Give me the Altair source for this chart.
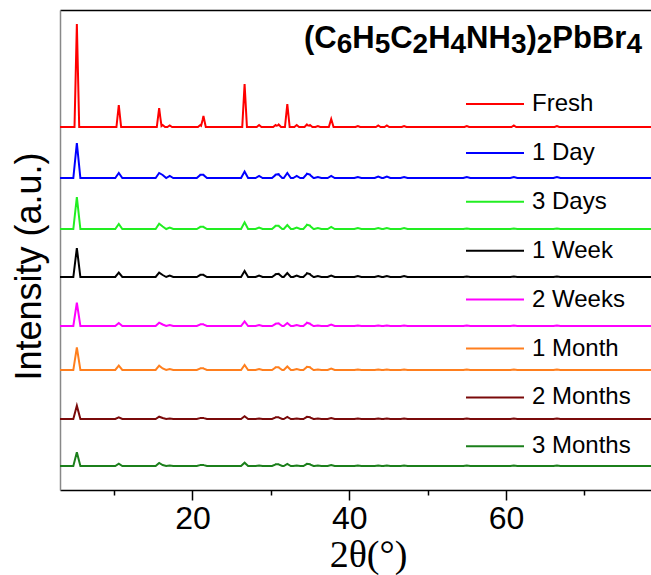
import altair as alt
import pandas as pd

# ---- data ----
series = ["Fresh", "1 Day", "3 Days", "1 Week", "2 Weeks", "1 Month", "2 Months", "3 Months"]
colors = ["#FF0000", "#0000FF", "#22EE22", "#000000", "#FF00FF", "#FF7F1E", "#7A0A0A", "#1B7F1B"]
offsets = [363, 312, 261, 213, 164, 120, 71, 24]

peak_pos = [5.25, 10.6, 15.75, 16.2, 17.1, 21.0, 21.4, 26.65, 28.5, 30.6, 31.0, 32.1,
            33.3, 34.6, 35.0, 36.0, 37.7, 41.1, 43.7, 44.8, 47.0, 55.0, 61.0, 66.5]

h_fresh   = [103, 22, 19, 2, 1.5, 2, 11, 43, 2, 2, 2.5, 23, 2, 2.5, 2, 1, 8, 1, 1.5, 1.5, 1, 1, 1.5, 1]
h_1day    = [35, 5, 5, 3, 2, 3, 3, 6.5, 2, 3, 3.5, 5, 2, 4, 3, 1, 2, 1, 1.5, 1.5, 1, 1, 1, 1]
h_3days   = [32, 5, 5.3, 2.5, 1.5, 2, 2, 6.7, 1.5, 3, 3, 4, 1.5, 4, 3, 1, 2, 1, 1, 1, 1, 0.5, 0.5, 0.5]
h_1week   = [29, 4.3, 4.3, 2, 1.5, 2, 2, 6, 1.5, 2.5, 3, 4, 1.5, 3.5, 2.5, 1, 1.5, 1, 1, 1, 1, 0.5, 0.5, 0.5]
h_2weeks  = [23.4, 3, 3.3, 1.5, 1, 1.5, 1.5, 4.7, 1, 2, 2.5, 3, 1, 3, 2, 0.5, 1.5, 0.5, 0.5, 0.5, 0.5, 0.5, 0.5, 0.5]
h_1month  = [22.7, 4.3, 4.3, 1.5, 1, 1.5, 1.5, 5, 1, 2.5, 2.5, 3.5, 1, 3, 2.5, 0.5, 1.5, 0.5, 0.5, 0.5, 0.5, 0.5, 0.5, 0.5]
h_2months = [13.3, 1.7, 2.3, 1, 0.5, 1, 1, 2.7, 0.5, 1.5, 1.5, 2, 0.5, 2, 1.5, 0.5, 1, 0.5, 0.5, 0.5, 0.5, 0.5, 0.5, 0.5]
h_3months = [13.7, 2.3, 3, 1, 0.5, 1, 1, 3.3, 0.5, 1.5, 1.5, 2, 0.5, 2, 1.5, 0.5, 1, 0.5, 0.5, 0.5, 0.5, 0.5, 0.5, 0.5]
heights = [h_fresh, h_1day, h_3days, h_1week, h_2weeks, h_1month, h_2months, h_3months]
halfwidths = [0.3, 0.45, 0.45, 0.45, 0.45, 0.45, 0.45, 0.45]

x_min, x_max = 3.1, 78.5

# formula pieces: (text, is_subscript)
formula = [("(C", False), ("6", True), ("H", False), ("5", True), ("C", False), ("2", True),
           ("H", False), ("4", True), ("NH", False), ("3", True), (")", False), ("2", True),
           ("PbBr", False), ("4", True)]

# ---- build line table (piecewise-linear peaks on an offset baseline) ----
rows = []
for s, off, hs, w in zip(series, offsets, heights, halfwidths):
    xs = {x_min, x_max}
    for p in peak_pos:
        xs.update([p - w, p, p + w])
    for x in sorted(xs):
        v = off + sum(max(0.0, h * (1 - abs(x - p) / w)) for p, h in zip(peak_pos, hs))
        rows.append({"theta": x, "intensity": v, "sample": s})
df = pd.DataFrame(rows)

xscale = alt.Scale(domain=[x_min, x_max], nice=False, zero=False)
yscale = alt.Scale(domain=[0, 480], nice=False, zero=False)

lines = alt.Chart(df).mark_line(strokeWidth=2, clip=True).encode(
    x=alt.X("theta:Q", scale=xscale, title="2θ(°)",
            axis=alt.Axis(values=[10, 20, 30, 40, 50, 60, 70],
                          labelExpr="datum.value % 20 == 0 ? datum.label : ''",
                          tickSize={"condition": {"test": "datum.value % 20 == 0", "value": 10}, "value": 5},
                          grid=False, domainColor="black", domainWidth=1.5,
                          tickColor="black", tickWidth=1.5,
                          labelFont="Liberation Sans", labelFontSize=32, labelColor="black",
                          labelPadding=3,
                          titleFont="Liberation Serif", titleFontSize=38, titleFontWeight="normal",
                          titleColor="black", titleX=308, titleY=76, titleAlign="center",
                          titleBaseline="alphabetic")),
    y=alt.Y("intensity:Q", scale=yscale, title="Intensity (a.u.)",
            axis=alt.Axis(labels=False, ticks=False, grid=False,
                          domainColor="#888888", domainWidth=1.5,
                          titleFont="Liberation Sans", titleFontSize=36, titleFontWeight="normal",
                          titleColor="black", titlePadding=12, titleY=256)),
    color=alt.Color("sample:N", sort=series,
                    scale=alt.Scale(domain=series, range=colors),
                    legend=alt.Legend(orient="none", legendX=405, legendY=64, title=None,
                                      symbolType="stroke", symbolSize=3364, symbolStrokeWidth=2,
                                      labelFont="Liberation Sans", labelFontSize=24,
                                      labelColor="black", labelOffset=7, rowPadding=6.9,
                                      padding=0)),
    detail="sample:N",
)

top_frame = alt.Chart(df).mark_line(opacity=0).encode(
    x=alt.X("theta:Q", scale=xscale,
            axis=alt.Axis(orient="top", labels=False, ticks=False, title=None, grid=False,
                          domainColor="black", domainWidth=1.5)),
    y=alt.value(0),
)

# ---- formula annotation, with real subscripts (Arial/Liberation Bold advance widths) ----
adv = {"(": 0.333, ")": 0.333, "C": 0.722, "H": 0.722, "N": 0.722, "P": 0.667,
       "b": 0.611, "B": 0.722, "r": 0.389}
main_size, sub_size = 31, 28
cursor = 244.0
formula_layers = []
for piece, is_sub in formula:
    fs = sub_size if is_sub else main_size
    formula_layers.append(
        alt.Chart(pd.DataFrame({"t": [piece]})).mark_text(
            font="Liberation Sans", fontWeight="bold", fontSize=fs, color="black",
            align="left", baseline="alphabetic",
        ).encode(x=alt.value(cursor), y=alt.value(43 if is_sub else 38), text="t:N")
    )
    cursor += sum(adv.get(ch, 0.556) for ch in piece) * fs

chart = alt.layer(lines, top_frame, *formula_layers).resolve_axis(x="independent").properties(
    width=591, height=480,
    autosize=alt.AutoSizeParams(type="none"),
    padding={"left": 60, "top": 10, "right": 0, "bottom": 85},
).configure_view(stroke=None).configure(background="white")

chart.save("out.html", embed_options={"renderer": "svg", "actions": False})
